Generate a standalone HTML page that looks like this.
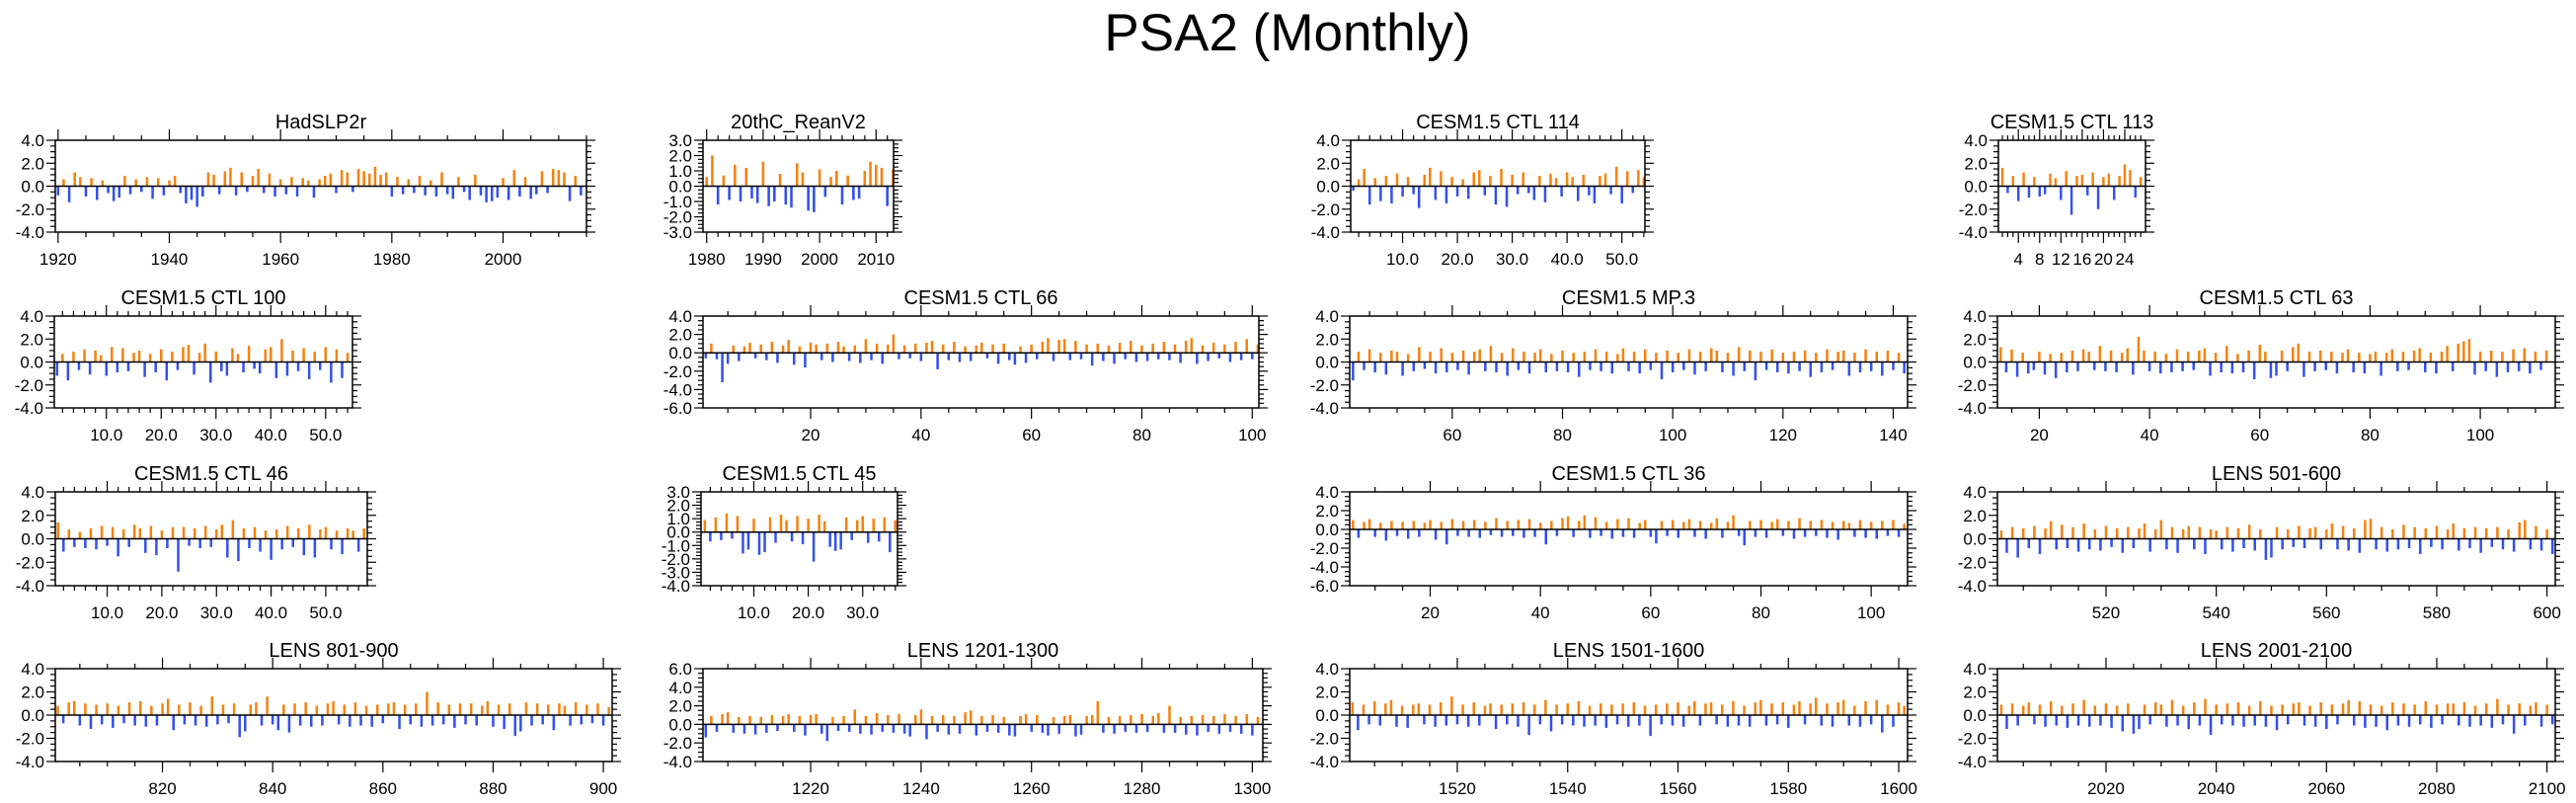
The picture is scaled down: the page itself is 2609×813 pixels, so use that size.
<!DOCTYPE html>
<html>
<head>
<meta charset="utf-8">
<style>
html,body{margin:0;padding:0;background:#fff;}
svg{display:block;font-family:"Liberation Sans",Arial,sans-serif;}
</style>
</head>
<body>
<svg id="chart" width="2609" height="813" viewBox="0 0 2609 813" xmlns="http://www.w3.org/2000/svg">
<text x="1304" y="51" font-size="53" text-anchor="middle" fill="#000">PSA2 (Monthly)</text>
</svg>
<script>
// ---- data: one value per year (approximate) ----
const titles = ["HadSLP2r","20thC_ReanV2","CESM1.5 CTL 114","CESM1.5 CTL 113","CESM1.5 CTL 100","CESM1.5 CTL 66","CESM1.5 MP.3","CESM1.5 CTL 63","CESM1.5 CTL 46","CESM1.5 CTL 45","CESM1.5 CTL 36","LENS 501-600","LENS 801-900","LENS 1201-1300","LENS 1501-1600","LENS 2001-2100"];
const startYears = [1920,1979,1,1,1,1,42,13,1,1,6,501,801,1201,1501,2001];
const yRanges = [[-4,4,2],[-3,3,1],[-4,4,2],[-4,4,2],[-4,4,2],[-6,4,2],[-4,4,2],[-4,4,2],[-4,4,2],[-4,3,1],[-6,4,2],[-4,4,2],[-4,4,2],[-4,6,2],[-4,4,2],[-4,4,2]];
const xRanges = [[1919.5,2015],[1979.35,2013.1],[0.54,54.2],[0.25,27.9],[0.5,54.9],[0.5,101.2],[41.4,142.6],[12.4,113.6],[0.5,57.6],[0.3,36.4],[5.4,106.6],[500.3,601.5],[800.55,901.6],[1200.5,1301.9],[1500.5,1601.6],[2000.3,2101.5]];
const xMajor = [20,10,10,4,10,20,20,20,10,10,20,20,20,20,20,20];
const xMinorStep = [5,2,2,1,2,5,5,5,2,2,5,5,5,5,5,5];
const xLabelDecimals = [0,0,1,0,1,0,0,0,1,1,0,0,0,0,0,0];

const vHad = [-0.8,0.6,-1.4,1.2,0.8,-0.9,0.7,-1.2,0.5,-0.6,-1.3,-1.0,0.9,-0.7,0.6,-0.5,0.8,-1.1,0.7,-0.8,0.5,0.9,-0.6,-1.5,-1.2,-1.8,-0.9,1.2,1.0,-0.7,1.3,1.6,-0.8,1.2,-0.5,0.9,1.5,-0.6,1.1,-0.9,0.6,-0.7,0.8,-0.9,0.7,0.5,-1.0,0.6,0.9,1.1,-0.6,1.4,1.2,-0.5,1.5,1.3,1.1,1.7,1.0,1.2,-0.9,0.8,-0.7,0.6,-0.6,0.9,-0.8,0.5,-0.9,1.2,-0.7,-1.1,0.8,-0.5,-1.2,1.0,-0.8,-1.4,-1.3,-1.0,0.7,-1.2,1.4,-0.9,0.8,-1.1,-0.7,1.3,-0.6,1.5,1.4,1.2,-1.3,0.9,-0.8];
const v20C = [-1.5,0.6,2.0,-1.2,0.7,-0.9,1.4,-1.0,1.2,-0.8,-1.1,1.6,-1.3,-1.0,0.8,-1.2,-1.4,1.5,0.9,-1.6,-1.7,1.1,-0.7,0.6,1.0,-1.2,0.7,-0.9,-0.8,1.0,1.6,1.4,1.2,-1.3,1.1];
const vC114 = [-0.4,0.6,1.5,-1.6,0.7,-1.3,0.9,-1.5,1.1,-0.9,0.8,-0.7,-1.9,1.0,1.6,-1.2,1.3,-1.5,0.8,-0.9,0.6,-1.1,1.2,1.4,-0.8,0.9,-1.6,1.5,-1.8,1.0,-0.7,1.2,-0.6,-1.2,0.9,-1.4,1.1,0.7,-0.9,1.2,0.8,-1.3,1.0,-0.8,-1.5,0.9,1.1,-0.7,1.7,-1.5,1.3,-0.6,1.4,0.8];
const vC113 = [1.6,-0.6,0.9,-1.3,1.2,-1.0,0.8,-0.9,-0.7,1.1,0.7,-1.2,1.3,-2.5,0.9,1.0,-0.8,1.2,-2.0,0.8,1.1,-1.2,0.9,1.9,1.4,-1.0,0.8,-1.4];
const vC100 = [-1.2,0.7,-1.6,0.9,-0.7,1.1,-1.1,1.0,0.6,-1.2,1.3,-0.9,1.2,-0.8,0.8,1.0,-1.3,0.7,-0.9,1.1,-1.6,0.9,-0.7,1.3,1.5,-1.1,0.8,1.6,-1.8,0.9,-0.8,-1.2,1.2,0.7,-0.9,1.4,-0.6,-1.0,1.1,1.3,-1.4,2.0,-1.2,1.0,-0.8,1.2,-1.5,0.9,-0.7,1.3,-1.8,1.1,-1.4,0.8];
const vC66 = [-0.6,1.0,-0.7,-3.2,-1.2,0.8,-0.9,0.7,1.1,-0.6,0.9,-0.8,1.2,-1.1,0.8,1.4,-1.3,0.7,-1.6,1.1,0.9,-0.8,1.0,-1.0,1.2,0.7,-0.9,0.8,-1.1,1.5,-0.8,1.0,-1.2,0.9,2.0,-0.7,0.8,-0.6,1.0,-0.9,1.1,1.3,-1.8,0.9,-0.8,1.2,-1.0,0.7,-0.9,0.8,1.1,-0.6,0.9,-1.2,1.0,-0.8,-1.3,0.7,-1.1,0.9,-0.7,1.2,1.6,-0.9,1.4,1.5,-0.8,1.3,-0.7,0.9,-1.4,1.0,-0.9,0.8,-1.2,1.1,-0.7,1.3,-1.0,0.8,-0.9,1.0,-0.7,1.2,-0.8,0.9,-1.1,1.3,1.6,-1.2,0.8,-0.9,1.1,-0.6,0.9,-1.0,1.2,-0.8,1.5,-0.7,0.9];
const vMP3 = [-1.6,0.9,-0.7,1.1,-0.9,0.8,-1.1,1.0,0.9,-1.2,0.7,-0.8,1.3,-0.6,0.9,-1.0,1.2,-0.9,0.8,-0.7,1.0,-1.1,0.9,1.1,-0.8,1.4,-0.9,0.8,-1.2,1.2,-0.7,0.9,-1.0,0.8,1.1,-0.9,0.7,-0.8,1.0,-0.9,0.8,-1.3,0.9,-0.7,1.1,-0.8,0.9,-1.0,0.7,1.2,-0.8,0.9,-1.0,1.1,-0.7,0.8,-1.5,1.0,-0.9,0.8,-0.7,1.1,-1.1,0.9,-0.8,1.2,1.0,-0.9,0.8,-1.2,1.3,-0.8,1.0,-1.6,0.9,-0.7,1.1,-0.9,0.8,-1.0,0.9,-0.8,1.0,-1.3,0.8,-0.9,1.1,-0.7,0.9,1.0,-1.2,0.8,-0.9,1.1,-0.8,0.9,-1.2,1.0,-0.7,0.8,-1.0];
const vC63 = [1.3,-0.9,1.1,-1.3,0.8,-1.0,-0.7,0.9,-1.1,0.7,-1.4,0.8,-0.9,1.0,-0.8,1.1,0.9,-0.7,1.4,-0.8,1.0,-0.9,0.8,1.2,-1.1,2.2,1.0,-0.8,0.9,-1.0,0.7,-0.9,1.1,-0.8,0.9,-0.7,1.0,1.2,-1.2,0.8,-0.9,1.4,-1.0,0.7,-0.9,1.0,-1.5,1.5,0.9,-1.4,-1.2,1.0,-0.8,1.3,1.6,-1.3,0.9,-0.8,1.0,-0.7,0.9,-1.0,0.8,1.1,-0.9,0.8,-1.0,0.7,0.9,-1.2,0.8,1.1,-0.8,0.9,-0.7,1.0,1.2,-0.9,0.8,-1.0,0.9,1.4,-0.8,1.6,1.8,2.0,-1.1,0.9,-0.8,1.0,-1.3,0.9,-0.9,1.1,-0.8,1.2,-1.0,0.9,-0.7,1.0];
const vC46 = [1.4,-1.1,0.8,-0.7,0.6,-0.8,0.9,-0.9,1.1,-0.6,1.0,-1.5,0.8,-0.7,1.2,0.9,-1.2,1.1,-1.4,0.7,-0.8,1.0,-2.8,1.0,-0.6,0.9,-0.8,1.1,-0.7,0.8,1.2,-1.6,1.6,-1.9,0.9,-0.8,1.0,-1.1,0.7,-1.8,0.8,-0.9,1.1,-0.7,0.9,-1.4,1.2,-1.6,0.8,1.0,-0.9,0.7,-1.3,0.9,0.7,-1.1,0.9];
const vC45 = [0.9,-0.7,1.1,-0.6,1.4,-0.5,1.2,-1.6,-1.3,1.0,-1.7,-1.5,1.1,-0.8,1.3,0.9,-0.7,1.2,-0.9,1.0,-2.2,1.3,0.8,-1.1,-1.4,-1.3,1.1,-0.6,0.9,1.2,-0.8,1.0,-0.7,1.1,-1.5,0.9];
const vC36 = [1.0,-0.9,0.8,1.1,-0.8,0.7,-1.2,0.9,-0.7,0.8,-1.0,0.9,-0.8,0.7,1.0,-1.1,0.8,-1.6,1.1,-0.7,0.9,-0.8,1.0,-0.9,0.8,-0.6,1.2,-0.8,0.9,-0.7,1.0,-0.9,1.1,-0.8,0.7,-1.6,0.9,-0.7,1.2,1.4,-0.8,0.9,1.5,-0.9,1.3,-0.7,0.8,-1.0,1.1,-0.8,1.2,-0.9,0.7,1.0,-0.8,-1.5,0.9,-0.7,1.0,-0.9,0.8,1.1,-0.8,0.9,-1.0,0.7,1.2,-0.9,0.8,1.5,-0.7,-1.7,0.9,-0.8,1.0,-0.9,0.8,1.1,-0.7,0.9,-1.0,1.2,-0.8,0.9,-0.7,1.0,-0.9,0.8,-1.1,0.9,0.7,-0.8,1.0,-0.9,0.8,-1.0,0.9,-0.7,1.0,-0.8,0.6];
const vL501 = [0.7,-1.2,1.0,-1.6,0.9,-0.8,1.1,-1.3,0.9,1.5,-0.9,1.2,-0.8,1.0,-1.1,1.3,-0.9,0.8,-1.0,1.1,-0.7,0.9,-1.2,1.0,-0.8,0.9,1.3,-1.1,0.8,1.6,-0.9,1.0,-1.2,0.8,1.1,-0.9,1.0,-1.3,0.8,0.7,-0.9,1.0,-1.1,0.9,-0.8,1.2,-1.0,0.8,-1.8,-1.6,1.0,-0.9,0.8,-0.7,1.1,-0.8,0.9,1.0,-0.9,0.8,1.3,-0.9,1.1,-1.0,0.9,-1.2,1.6,1.7,-0.9,1.0,-1.1,0.8,-0.9,1.2,-0.8,1.0,-1.3,0.9,-0.7,1.1,-0.9,0.8,1.3,-1.0,0.9,-0.8,1.0,-1.2,0.9,-0.7,1.0,-0.9,0.8,-1.1,1.4,1.6,-0.9,1.1,-1.0,0.8,-1.3];
const vL801 = [0.8,-0.7,1.1,1.2,-0.9,1.0,-1.2,0.9,-0.8,1.0,-1.1,0.8,-0.7,1.1,-0.9,1.2,-1.0,0.8,-0.9,1.0,1.4,-1.3,0.9,-0.8,1.1,-0.9,0.8,-1.0,1.6,-0.8,0.9,-0.7,1.0,-1.9,-1.4,0.9,1.1,-0.9,1.6,-0.8,-1.3,0.9,-1.5,1.0,-0.9,1.1,-1.0,0.8,-0.9,1.0,1.2,-0.8,0.9,-1.0,1.1,-0.9,0.8,-1.0,0.9,-0.7,1.0,1.1,-1.2,0.9,-0.8,1.0,-1.0,2.0,-0.9,1.1,-0.8,0.9,-1.1,1.0,-0.8,1.0,-0.9,0.8,1.2,-1.0,0.9,-1.2,1.0,-1.8,-1.4,1.1,-0.9,1.0,-0.8,0.9,-1.3,1.0,0.8,-0.9,1.1,-0.8,0.9,-0.7,1.0,-0.9,0.7];
const vL1201 = [-1.4,0.9,-0.8,1.1,1.3,-0.9,0.8,-1.0,0.9,-1.1,0.8,-0.9,1.0,-0.7,0.9,1.1,-0.8,0.9,-1.2,1.0,1.1,-1.0,-1.8,0.8,-0.7,0.9,-0.8,1.6,-1.0,0.9,-1.1,1.2,-0.8,1.0,-0.9,1.1,-1.0,-1.3,1.0,1.6,-1.6,0.9,-0.8,1.0,-1.1,0.9,-1.0,1.3,1.5,-1.2,0.9,-0.8,1.0,-0.9,0.8,-1.2,-1.3,0.9,1.1,-0.8,1.0,-0.9,-1.2,0.8,-1.0,0.9,1.0,-1.3,-1.1,0.9,1.0,2.5,-0.9,0.8,-1.0,0.9,-0.8,1.0,-0.9,1.1,-0.8,0.9,1.2,-0.9,2.0,-0.9,0.8,-1.1,0.9,-1.2,1.0,-0.8,0.9,-1.0,1.1,-0.8,0.9,-1.0,1.1,-1.2,0.8];
const vL1501 = [1.1,-1.3,0.9,-0.8,1.2,-0.9,1.0,1.3,-1.0,0.8,-1.1,0.9,1.0,-0.8,0.9,-1.0,1.1,-0.9,1.6,-0.8,0.9,-1.0,1.1,-0.9,0.8,1.0,-1.2,0.9,-0.8,1.0,-1.0,1.1,-1.7,0.9,-0.8,1.3,-1.4,0.9,-0.8,1.0,-0.9,1.2,-1.0,0.8,-0.9,1.0,-1.1,0.9,-0.8,1.0,-1.0,1.1,-0.9,0.8,-1.8,0.9,-0.8,1.0,-0.9,1.1,-1.0,0.8,1.2,-0.9,1.0,1.1,-0.8,0.9,-1.0,1.2,-0.9,0.8,-1.0,1.1,1.3,-0.9,1.0,-0.8,1.1,-1.1,0.9,1.2,-0.8,1.0,1.5,-0.9,1.0,-1.0,1.1,1.3,-0.9,0.8,-1.0,1.2,-0.8,1.3,-1.5,0.9,-1.0,1.1,0.8];
const vL2001 = [0.9,-1.2,1.0,-0.9,0.8,1.1,-0.8,0.9,-1.0,1.2,-0.9,0.8,-1.1,1.0,-0.9,1.3,-1.0,0.8,-0.9,1.0,-1.1,0.8,-1.4,1.0,-1.6,-1.2,0.9,-0.8,1.1,0.9,-1.0,1.3,-0.9,0.8,-1.2,1.1,-0.9,1.4,-1.7,0.9,-0.8,1.0,-0.9,1.1,-1.0,0.8,-0.9,1.2,-1.0,0.8,-1.3,0.9,-0.8,1.0,1.1,-0.9,0.8,-1.0,1.1,-1.2,0.9,-0.8,1.0,1.3,-0.9,1.2,-1.1,0.9,-1.0,0.8,-1.3,1.1,-0.9,1.0,-1.0,0.9,-0.8,1.2,-1.1,0.9,-0.8,1.0,1.0,-0.9,1.1,-1.0,0.8,-0.9,1.0,-1.1,1.4,-0.8,0.9,-1.6,1.0,-0.9,0.8,1.1,-1.0,0.9,-0.8];
const seriesValues = [vHad,v20C,vC114,vC113,vC100,vC66,vMP3,vC63,vC46,vC45,vC36,vL501,vL801,vL1201,vL1501,vL2001];

// ---- layout (pixel boxes, not data) ----
const boxes = [[56,142,594,235],[712,142,905,235],[1368,142,1666,235],[2024,142,2173,235],
[55,320,357,413],[712,320,1275,413],[1367,320,1932,413],[2023,320,2588,413],
[56,498,372,593],[710,498,909,593],[1367,498,1932,593],[2023,498,2588,593],
[56,677,620,771],[712,677,1279,771],[1367,677,1932,771],[2023,677,2588,771]];

const NS = "http://www.w3.org/2000/svg";
const svg = document.getElementById('chart');
function mk(tag, attrs, parent){const e=document.createElementNS(NS,tag);for(const k in attrs)e.setAttribute(k,attrs[k]);(parent||svg).appendChild(e);return e;}
function slug(s){return s.toLowerCase().replace(/[^a-z0-9]+/g,'-').replace(/^-|-$/g,'');}

titles.forEach((title, p) => {
  const [L,T,R,B] = boxes[p];
  const [y0,y1,ys] = yRanges[p];
  const [x0,x1] = xRanges[p];
  const sx = v => L + (v - x0) / (x1 - x0) * (R - L);
  const sy = v => B - (v - y0) / (y1 - y0) * (B - T);
  const g = mk('g', {});
  
  
  const clipId = 'clip' + p;
  const cp = mk('clipPath', {id: clipId}, g);
  mk('rect', {x: L, y: T, width: R - L, height: B - T}, cp);
  const bars = mk('g', {'clip-path': 'url(#' + clipId + ')'}, g);
  
  
  const vals = seriesValues[p];
  const step = sx(1) - sx(0);
  const bw = Math.max(1.5, step * 0.45);
  vals.forEach((v, i) => {
    const xc = sx(startYears[p] + i);
    const ya = sy(Math.max(v, 0)), yb = sy(Math.min(v, 0));
    const r = mk('rect', {x: (xc - bw / 2).toFixed(2), y: ya.toFixed(2), width: bw.toFixed(2), height: Math.max(0.5, yb - ya).toFixed(2), fill: v >= 0 ? '#f5820f' : '#3350ee'}, bars);
    
    
  });
  const z = mk('line', {x1: L, x2: R, y1: sy(0), y2: sy(0), stroke: '#000', 'stroke-width': 1.5}, g);
  
  
  const fr = mk('rect', {x: L, y: T, width: R - L, height: B - T, fill: 'none', stroke: '#000', 'stroke-width': 1.5}, g);
  
  
  const ym = ys / 4;
  for (let v = y0; v <= y1 + 1e-6; v += ym) {
    const major = Math.abs(Math.round(v / ys) * ys - v) < 1e-6;
    const len = major ? 9 : 5;
    const y = sy(v);
    mk('line', {x1: L - len, x2: L, y1: y, y2: y, stroke: '#000', 'stroke-width': 1.2}, g);
    mk('line', {x1: R, x2: R + len, y1: y, y2: y, stroke: '#000', 'stroke-width': 1.2}, g);
    if (major) {
      const t = mk('text', {x: L - 11, y: y + 6, 'font-size': 17, 'text-anchor': 'end', fill: '#000'}, g);
      
      
      t.textContent = (Math.abs(v) < 1e-6 ? 0 : v).toFixed(1);
    }
  }
  const xm = xMinorStep[p], xM = xMajor[p];
  for (let v = Math.ceil(x0 / xm) * xm; v <= x1; v += xm) {
    const major = v % xM === 0;
    const len = major ? 11 : 5;
    const x = sx(v);
    mk('line', {x1: x, x2: x, y1: B, y2: B + len, stroke: '#000', 'stroke-width': 1.2}, g);
    mk('line', {x1: x, x2: x, y1: T - len, y2: T, stroke: '#000', 'stroke-width': 1.2}, g);
    if (major) {
      const t = mk('text', {x: x, y: B + 33, 'font-size': 17, 'text-anchor': 'middle', fill: '#000'}, g);
      
      
      t.textContent = v.toFixed(xLabelDecimals[p]);
    }
  }
  const tt = mk('text', {x: (L + R) / 2, y: T - 12, 'font-size': 20, 'text-anchor': 'middle', fill: '#000'}, g);
  
  
  tt.textContent = title;
});
</script>
</body>
</html>
